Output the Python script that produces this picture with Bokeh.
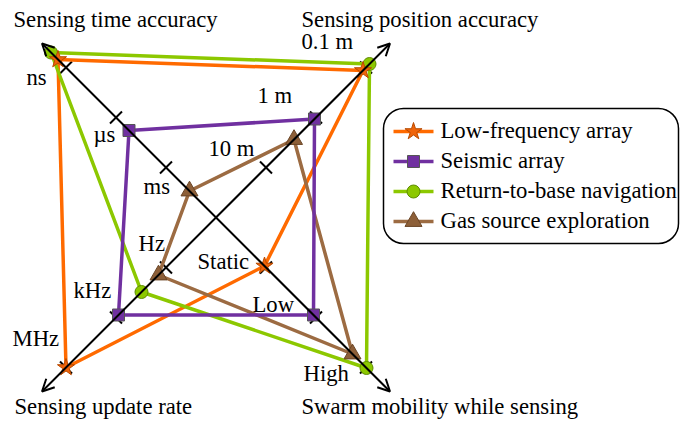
import numpy as np
from bokeh.plotting import figure
from bokeh.models import Arrow, OpenHead
from bokeh.embed import file_html
from bokeh.resources import INLINE
from bokeh.core.properties import value

# ---------------- data ----------------
# axis order: top-left, top-right, bottom-right, bottom-left
axis_titles = ["Sensing time accuracy", "Sensing position accuracy",
               "Swarm mobility while sensing", "Sensing update rate"]
tick_values = [1, 2, 3]
time_ticks = ["ms", "µs", "ns"]
position_ticks = ["10 m", "1 m", "0.1 m"]
mobility_ticks = ["Static", "Low", "High"]
rate_ticks = ["Hz", "kHz", "MHz"]

series_names = ["Low-frequency array", "Seismic array",
                "Return-to-base navigation", "Gas source exploration"]
low_frequency = [3.16, 2.94, 0.97, 3.00]
seismic = [1.74, 1.97, 1.95, 1.95]
return_to_base = [3.30, 3.07, 3.01, 1.49]
gas_source = [0.53, 1.56, 2.73, 1.15]

# ---------------- layout ----------------
W, H = 697, 423
CX, CY, UNIT = 215.5, 217.0, 50.0   # centre in pixels, pixels per unit
TEXT_DY = 7                          # renderer baseline correction (px)
def P(x, y):
    return (x - CX) / UNIT, (CY - y) / UNIT

dirs = [(-1, 1), (1, 1), (1, -1), (-1, -1)]
axis_len = 3.48
FONT = value("Liberation Serif")
FS = value("22.7px")

p = figure(width=W, height=H,
           x_range=((0 - CX) / UNIT, (W - CX) / UNIT),
           y_range=((CY - H) / UNIT, CY / UNIT),
           output_backend="svg", toolbar_location=None,
           x_axis_type=None, y_axis_type=None, min_border=0)
p.grid.visible = False
p.outline_line_color = None
p.background_fill_color = "white"

# axes with arrows
for dx, dy in dirs:
    p.add_layout(Arrow(end=OpenHead(size=12, line_width=2, line_color="black"),
                       x_start=0, y_start=0, x_end=dx * axis_len, y_end=dy * axis_len,
                       line_width=2, line_color="black"))

# ticks
tx0, ty0, tx1, ty1 = [], [], [], []
half = 0.12
for dx, dy in dirs:
    px_, py_ = dy, -dx
    for r in tick_values:
        cx, cy = r * dx, r * dy
        tx0.append(cx - half * px_); ty0.append(cy - half * py_)
        tx1.append(cx + half * px_); ty1.append(cy + half * py_)
p.segment(tx0, ty0, tx1, ty1, line_color="black", line_width=2)

# text helper (positions are left edge / baseline in pixels)
def add_text(items):
    xs, ys, ts = [], [], []
    for t, (x, y) in items:
        a, b = P(x, y - TEXT_DY)
        xs.append(a); ys.append(b); ts.append(t)
    p.text(x=xs, y=ys, text=ts, text_font=FONT, text_font_size=FS,
           text_align="left", text_baseline="alphabetic", text_color="black")

title_pos = [(13, 26), (301, 26), (301, 413), (14, 413)]
add_text(list(zip(axis_titles, title_pos)))
add_text(list(zip(time_ticks, [(143, 193), (93, 141), (26, 84)])))
add_text(list(zip(position_ticks, [(208, 155), (257, 102), (301, 48)])))
add_text(list(zip(mobility_ticks, [(197, 268), (252, 311), (303, 380)])))
add_text(list(zip(rate_ticks, [(138, 250), (73, 297), (12, 345)])))

# series
styles = {
    "Low-frequency array": dict(color="#FF6A00", marker="star", size=18, fill="#F0640A", edge="#B84A00"),
    "Seismic array": dict(color="#7030A0", marker="square", size=12, fill="#7030A0", edge="#555555"),
    "Return-to-base navigation": dict(color="#8CC800", marker="circle", size=13, fill="#8CC800", edge="#5E8C00"),
    "Gas source exploration": dict(color="#9C6B42", marker="triangle", size=17, fill="#8D5F38", edge="#6A4526"),
}
values = dict(zip(series_names, [low_frequency, seismic, return_to_base, gas_source]))

def coords(vals):
    xs = [v * d[0] for v, d in zip(vals, dirs)]
    ys = [v * d[1] for v, d in zip(vals, dirs)]
    return xs, ys

line_order = ["Low-frequency array", "Gas source exploration",
              "Return-to-base navigation", "Seismic array"]
for name in line_order:
    xs, ys = coords(values[name])
    p.line(xs + xs[:1], ys + ys[:1], line_color=styles[name]["color"], line_width=3.5)

marker_order = ["Gas source exploration", "Return-to-base navigation",
                "Seismic array", "Low-frequency array"]
for name in marker_order:
    xs, ys = coords(values[name])
    s = styles[name]
    p.scatter(xs, ys, marker=s["marker"], size=s["size"], fill_color=s["fill"],
              line_color=s["edge"], line_width=1)

# legend box
l, t = P(383, 108)
r, b = P(678, 243)
try:
    p.quad(left=[l], right=[r], top=[t], bottom=[b], fill_color="white",
           line_color="black", line_width=1.5, border_radius=20)
except Exception:
    p.quad(left=[l], right=[r], top=[t], bottom=[b], fill_color="white",
           line_color="black", line_width=1.5)

row_y = [131, 161, 191, 221]
base_y = [137, 167, 197, 227]
for name, ry in zip(series_names, row_y):
    s = styles[name]
    x0, y0 = P(393, ry)
    x1, _ = P(433, ry)
    xm, _ = P(413, ry)
    p.line([x0, x1], [y0, y0], line_color=s["color"], line_width=3.5)
    p.scatter([xm], [y0], marker=s["marker"], size=s["size"], fill_color=s["fill"],
              line_color=s["edge"], line_width=1)
add_text([(name, (440, by)) for name, by in zip(series_names, base_y)])

open("out.html", "w").write(file_html(p, INLINE))
